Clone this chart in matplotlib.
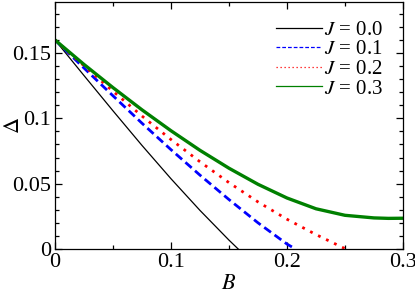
import matplotlib
matplotlib.use('Agg')
import matplotlib.pyplot as plt
from matplotlib.lines import Line2D
from matplotlib.ticker import MultipleLocator

plt.rcParams['font.family'] = ['Liberation Serif', 'DejaVu Serif']
plt.rcParams['mathtext.fontset'] = 'stix'

# valores
B_j00 = [0, 0.025, 0.05, 0.075, 0.1, 0.125, 0.15, 0.1579]
D_j00 = [0.16, 0.13275, 0.10575, 0.07925, 0.05375, 0.0295, 0.00675, 0.0]

B_j01 = [0, 0.025, 0.05, 0.075, 0.1, 0.125, 0.15, 0.175, 0.2, 0.2072]
D_j01 = [0.16, 0.1385, 0.11725, 0.09625, 0.076, 0.0565, 0.0378, 0.02, 0.00375, 0.0]

B_j02 = [0, 0.025, 0.05, 0.075, 0.1, 0.125, 0.15, 0.175, 0.2, 0.225, 0.2506]
D_j02 = [0.16, 0.14025, 0.12075, 0.10175, 0.08375, 0.06675, 0.05075, 0.036, 0.02275, 0.011, 0.0]

B_j03 = [0, 0.025, 0.05, 0.075, 0.1, 0.125, 0.15, 0.175, 0.2, 0.225, 0.25, 0.275, 0.2875, 0.3]
D_j03 = [0.16, 0.14125, 0.1235, 0.1065, 0.0905, 0.0755, 0.0618, 0.0495, 0.039, 0.03075, 0.02575, 0.02375, 0.0234, 0.0235]

rotulos = ['$J$ = 0.0', '$J$ = 0.1', '$J$ = 0.2', '$J$ = 0.3']

fig = plt.figure(figsize=(4.15, 2.96), dpi=100)
ax = fig.add_axes([0.1325, 0.159, 0.8385, 0.834])

estilos = [
    dict(color='black', lw=0.9, ls='-'),
    dict(color='blue', lw=2.0, ls=(0, (3, 1.6))),
    dict(color='red', lw=2.0, ls=(0, (1, 2.2))),
    dict(color='#008000', lw=2.4, ls='-'),
]

dados = [(B_j00, D_j00), (B_j01, D_j01), (B_j02, D_j02), (B_j03, D_j03)]
for (x, y), st in zip(dados, estilos):
    ax.plot(x, y, **st)

ax.set_xlim(0, 0.3)
ax.set_ylim(0, 0.189)
ax.set_xticks([0, 0.1, 0.2, 0.3])
ax.set_xticklabels(['0', '0.1', '0.2', '0.3'])
ax.set_yticks([0, 0.05, 0.1, 0.15])
ax.set_yticklabels(['0', '0.05', '0.1', '0.15'])
ax.xaxis.set_minor_locator(MultipleLocator(0.05))
ax.yaxis.set_minor_locator(MultipleLocator(0.01))
ax.tick_params(which='both', direction='in', top=True, right=True, labelsize=16)
ax.tick_params(which='major', length=5, width=0.9, pad=3)
ax.tick_params(which='minor', length=3, width=0.9)
for s in ax.spines.values():
    s.set_linewidth(0.9)

ax.set_xlabel('$B$', fontsize=16, labelpad=2)
ax.set_ylabel(r'$\mathit{\Delta}$', fontsize=16)
ax.yaxis.set_label_coords(-0.09, 0.5)

handles = [Line2D([], [], color=st['color'], lw=0.9, ls=st['ls']) for st in estilos]
ax.legend(handles, rotulos, loc='upper right', frameon=False, fontsize=15,
          handlelength=2.2, handletextpad=0.1, labelspacing=0.0,
          borderaxespad=0.0, bbox_to_anchor=(0.967, 0.96))

fig.savefig('out.png', dpi=100)
